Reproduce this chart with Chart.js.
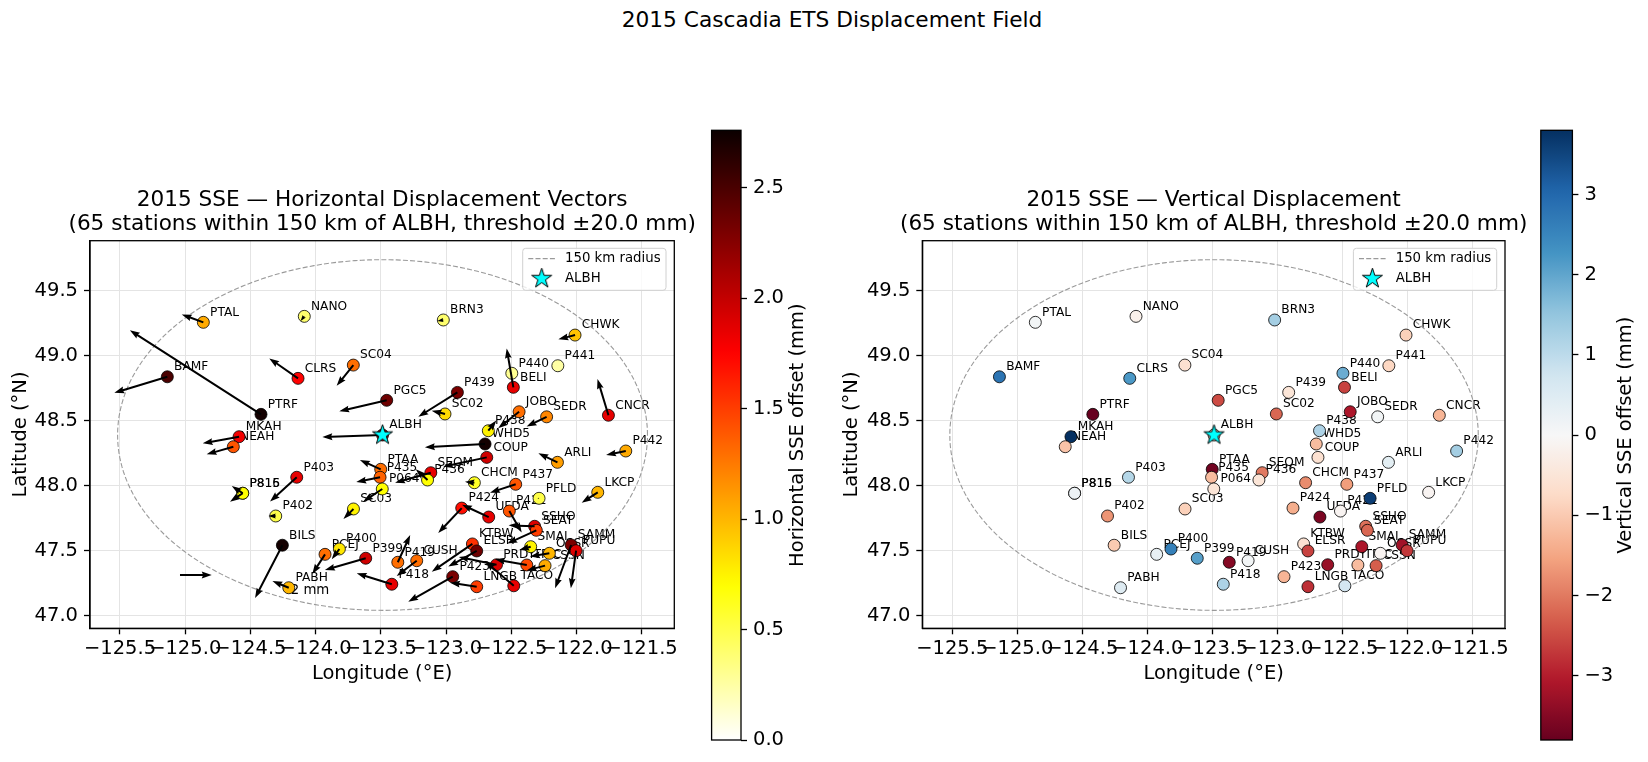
<!DOCTYPE html>
<html>
<head>
<meta charset="utf-8">
<script src="https://cdn.jsdelivr.net/npm/chart.js@4.4.0/dist/chart.umd.min.js"></script>
<style>
  body { margin: 0; background: #fff; width: 1648px; height: 762px; position: relative; overflow: hidden; font-family: 'DejaVu Sans', sans-serif; }
  canvas { position: absolute; top: 0; }
  #suptitle { position: absolute; left: 0; top: 7px; width: 1664px; text-align: center; font-size: 21.7px; line-height: 26px; color: #000; }
</style>
</head>
<body>
<div id="suptitle">2015 Cascadia ETS Displacement Field</div>
<canvas id="panel-h" width="712" height="762" style="left:0;width:712px;height:762px"></canvas>
<canvas id="cbar-h" width="150" height="762" style="left:700px;width:150px;height:762px"></canvas>
<canvas id="panel-v" width="710" height="762" style="left:830px;width:710px;height:762px"></canvas>
<canvas id="cbar-v" width="118" height="762" style="left:1530px;width:118px;height:762px"></canvas>
<script>
// ---- data ----
const stations = ['PTAL','NANO','BAMF','CLRS','SC04','PTRF','PGC5','BRN3','CHWK','P440','BELI','P441','CNCR','P439','SC02','JOBO','SEDR','ALBH','MKAH','NEAH','P438','WHD5','COUP','P442','ARLI','PTAA','P435','P064','SC03','SEQM','P436','CHCM','P437','PFLD','P421','UFDA','P424','SSHO','SEAT','KTBW','ELSR','SMAI','SAMM','PUPU','OSSR','CSSN','TRIC','PRDY','TACO','LNGB','P423','P419','CUSH','P418','P399','P400','PCEJ','P402','P403','P815','P816','BILS','PABH','LKCP'];
const lon = [-124.861,-124.087,-125.137,-124.135,-123.711,-124.419,-123.455,-123.021,-122.011,-122.496,-122.484,-122.143,-121.755,-122.913,-123.008,-122.440,-122.229,-123.487,-124.587,-124.631,-122.676,-122.701,-122.688,-121.622,-122.146,-123.501,-123.506,-123.489,-123.710,-123.117,-123.142,-122.783,-122.466,-122.287,-122.515,-122.673,-122.880,-122.321,-122.308,-122.798,-122.765,-122.351,-122.041,-122.003,-122.208,-122.241,-122.381,-122.613,-122.481,-122.765,-122.949,-123.370,-123.225,-123.416,-123.616,-123.818,-123.928,-124.306,-124.145,-124.559,-124.559,-124.255,-124.206,-121.837];
const lat = [49.257,49.303,48.838,48.826,48.928,48.549,48.657,49.275,49.159,48.865,48.757,48.923,48.542,48.718,48.552,48.569,48.530,48.390,48.377,48.300,48.423,48.321,48.218,48.267,48.180,48.126,48.065,47.975,47.821,48.100,48.044,48.023,48.011,47.903,47.805,47.759,47.828,47.688,47.657,47.552,47.498,47.531,47.544,47.500,47.480,47.385,47.390,47.392,47.230,47.223,47.300,47.411,47.423,47.242,47.442,47.513,47.472,47.767,48.065,47.942,47.942,47.542,47.215,47.949];
// horizontal offset magnitude (mm), colour of left panel
const hOffset = [1.05,0.40,2.50,1.75,1.30,2.72,2.35,0.40,0.95,0.30,1.85,0.25,1.85,2.30,0.85,1.30,1.20,2.20,1.80,1.40,0.75,2.72,1.95,1.05,1.10,1.30,1.35,0.70,0.75,1.85,0.70,0.60,1.40,0.50,1.40,1.85,1.70,1.90,1.50,1.55,2.35,0.75,2.30,1.90,1.00,1.05,1.45,1.90,1.85,1.50,2.30,1.30,1.30,1.85,1.95,0.80,1.30,0.50,1.85,0.70,0.70,2.72,1.00,1.00];
// arrow components (mm)
const vEast = [-1.36,-0.23,-3.34,-1.81,-1.05,-8.26,-2.99,-0.38,-1.05,-0.05,-0.42,0.0,-0.69,-2.46,-0.84,-1.32,-1.26,-3.79,-2.29,-1.68,0.50,-3.79,-2.74,-1.24,-1.20,-1.31,-1.50,-1.20,-0.63,-2.25,-0.74,-0.59,-1.62,-0.10,0.78,-1.68,-1.48,-1.64,-1.83,-2.56,-1.79,-0.72,-1.01,-0.33,-1.22,-1.15,-2.00,-2.38,-1.79,-1.68,-2.80,0.78,-1.26,-2.21,-2.57,-0.48,-0.80,-0.46,-1.68,-0.69,-0.80,-1.72,-1.03,-1.01];
const vNorth = [0.50,-0.30,-1.01,1.26,-1.31,5.32,-0.69,-0.06,-0.27,0.05,2.46,0.0,2.29,-1.54,0.21,-1.05,-0.61,-0.13,-0.42,-0.48,0.65,-0.21,-0.59,-0.25,0.57,0.59,-0.30,-0.80,-0.63,-0.63,0.68,0.06,-0.53,0.0,-1.36,0.78,-1.58,0.06,-0.84,-1.75,-0.99,-0.21,-2.73,-2.37,-0.21,-0.30,0.36,0.49,1.53,0.25,-1.58,1.72,-0.97,0.69,-0.74,-0.65,-1.24,0.0,-1.54,0.46,-0.53,-3.34,0.42,-0.66];
// vertical offset (mm), colour of right panel
const vUp = [0.1,-0.2,2.8,2.2,-0.6,-3.8,-2.5,1.3,-0.9,1.9,-2.6,-0.8,-1.3,-0.5,-2.2,-3.1,0.1,-1.0,3.8,-1.1,1.2,-1.2,-0.6,1.3,0.4,-3.7,-1.2,-0.5,-0.9,-2.0,-0.5,-1.8,-1.6,3.6,-0.1,-3.6,-1.4,-2.1,-2.2,-0.6,-2.6,-3.1,-3.2,-2.7,-0.1,-2.3,-1.2,-3.3,0.7,-2.8,-1.3,-3.5,0.1,1.2,2.1,2.6,0.3,-1.7,1.1,0.2,0.2,-1.0,0.5,-0.1];

const xTicks = [-125.5, -125.0, -124.5, -124.0, -123.5, -123.0, -122.5, -122.0, -121.5];
const yTicks = [47.0, 47.5, 48.0, 48.5, 49.0, 49.5];
const hTicks = [0.0, 0.5, 1.0, 1.5, 2.0, 2.5];
const uTicks = [-3, -2, -1, 0, 1, 2, 3];
const xRange = [-125.73, -121.25];
const yRange = [46.903, 49.885];
const hMax = 2.76;
const uLim = 3.8;
const center = { name: 'ALBH', lon: -123.487, lat: 48.390 };
const radiusKm = 150;
const keyMm = 2;
const keyAt = { lon: -125.04, lat: 47.313 };
const keyLabelAt = { lon: -124.043, lat: 47.192 };
const degPerMm = 0.1217; // quiver scale

const FONT = "'DejaVu Sans', sans-serif";
const AX = 19.5; // tick and axis label size
const subtitle = '(65 stations within 150 km of ALBH, threshold \u00b120.0 mm)';

// ---- colour maps ----
function hotR(v) {
  const t = 1 - Math.min(Math.max(v / hMax, 0), 1);
  const r = t < 0.365079 ? 0.0416 + (1 - 0.0416) * t / 0.365079 : 1;
  const g = t < 0.365079 ? 0 : t < 0.746032 ? (t - 0.365079) / 0.380953 : 1;
  const b = t < 0.746032 ? 0 : (t - 0.746032) / 0.253968;
  return `rgb(${Math.round(r * 255)},${Math.round(g * 255)},${Math.round(b * 255)})`;
}
const RDBU = [[103,0,31],[178,24,43],[214,96,77],[244,165,130],[253,219,199],[247,247,247],[209,229,240],[146,197,222],[67,147,195],[33,102,172],[5,48,97]];
function rdbu(v) {
  const t = Math.min(Math.max((v + uLim) / (2 * uLim), 0), 1) * 10;
  const i = Math.min(Math.floor(t), 9), f = t - i;
  const c = RDBU[i].map((a, k) => Math.round(a + (RDBU[i + 1][k] - a) * f));
  return `rgb(${c[0]},${c[1]},${c[2]})`;
}

const minus = s => s.replace('-', '\u2212');

function makeStar(R) {
  const c = document.createElement('canvas');
  const s = Math.ceil(2 * R + 4);
  c.width = c.height = s;
  const g = c.getContext('2d');
  g.translate(s / 2, s / 2);
  g.beginPath();
  for (let i = 0; i < 10; i++) {
    const r = i % 2 ? R * 0.382 : R;
    const a = -Math.PI / 2 + i * Math.PI / 5;
    g.lineTo(r * Math.cos(a), r * Math.sin(a));
  }
  g.closePath();
  g.fillStyle = '#00ffff';
  g.fill();
  g.lineWidth = 1;
  g.strokeStyle = '#000';
  g.stroke();
  return c;
}
const starImg = makeStar(10.5);

function ringPoints() {
  const dLat = radiusKm / 111.195;
  const dLon = dLat / Math.cos(center.lat * Math.PI / 180);
  const out = [];
  for (let i = 0; i <= 240; i++) {
    const a = i / 240 * 2 * Math.PI;
    out.push({ x: center.lon + dLon * Math.cos(a), y: center.lat + dLat * Math.sin(a) });
  }
  return out;
}

function drawArrow(ctx, x0, y0, x1, y1) {
  const dx = x1 - x0, dy = y1 - y0, L = Math.hypot(dx, dy);
  if (L < 0.3) return;
  const f = Math.min(1, L / 10);
  const ux = dx / L, uy = dy / L, nx = -uy, ny = ux;
  const sw = 1.0 * Math.max(f, 0.5), hw = 3.4 * f, hl = 10 * f, ha = 9 * f;
  ctx.beginPath();
  ctx.moveTo(x0 + nx * sw, y0 + ny * sw);
  ctx.lineTo(x1 - ux * ha + nx * sw, y1 - uy * ha + ny * sw);
  ctx.lineTo(x1 - ux * hl + nx * hw, y1 - uy * hl + ny * hw);
  ctx.lineTo(x1, y1);
  ctx.lineTo(x1 - ux * hl - nx * hw, y1 - uy * hl - ny * hw);
  ctx.lineTo(x1 - ux * ha - nx * sw, y1 - uy * ha - ny * sw);
  ctx.lineTo(x0 - nx * sw, y0 - ny * sw);
  ctx.closePath();
  ctx.fillStyle = '#000';
  ctx.fill();
}

function makePanel(id, cfg) {
  const pts = lon.map((x, i) => ({ x, y: lat[i] }));
  const panelPlugin = {
    id: 'panelDecor',
    beforeDatasetsDraw(chart) {
      const { ctx, scales: { x, y } } = chart;
      ctx.save();
      ctx.font = `12.2px ${FONT}`;
      ctx.fillStyle = '#000';
      ctx.textAlign = 'left';
      ctx.textBaseline = 'alphabetic';
      stations.forEach((n, i) => {
        ctx.fillText(n, x.getPixelForValue(lon[i]) + 6.7, y.getPixelForValue(lat[i]) - 6.7);
      });
      if (cfg.arrows) {
        ctx.font = `13.3px ${FONT}`;
        ctx.textAlign = 'center';
        ctx.textBaseline = 'middle';
        ctx.fillText(`${keyMm} mm`, x.getPixelForValue(keyLabelAt.lon), y.getPixelForValue(keyLabelAt.lat));
      }
      ctx.restore();
    },
    afterDatasetDraw(chart, args) {
      if (!cfg.arrows || args.index !== 1) return;
      const { ctx, scales: { x, y } } = chart;
      ctx.save();
      stations.forEach((n, i) => {
        drawArrow(ctx, x.getPixelForValue(lon[i]), y.getPixelForValue(lat[i]),
          x.getPixelForValue(lon[i] + vEast[i] * degPerMm), y.getPixelForValue(lat[i] + vNorth[i] * degPerMm));
      });
      drawArrow(ctx, x.getPixelForValue(keyAt.lon), y.getPixelForValue(keyAt.lat),
        x.getPixelForValue(keyAt.lon + keyMm * degPerMm), y.getPixelForValue(keyAt.lat));
      ctx.restore();
    },
    afterDraw(chart) {
      const { ctx, chartArea: a } = chart;
      ctx.save();
      ctx.strokeStyle = '#000';
      ctx.lineWidth = 1.3;
      ctx.strokeRect(a.left, a.top, a.right - a.left, a.bottom - a.top);
      // titles
      ctx.fillStyle = '#000';
      ctx.font = `21.6px ${FONT}`;
      ctx.textAlign = 'center';
      ctx.textBaseline = 'middle';
      const cx = (a.left + a.right) / 2;
      ctx.fillText(cfg.title, cx, a.top - 40.5);
      ctx.fillText(subtitle, cx, a.top - 16.5);
      // legend
      const w = 143.3, h = 42, x0 = a.right - 8.3 - w, y0 = a.top + 7.6;
      ctx.beginPath();
      ctx.roundRect(x0, y0, w, h, 3);
      ctx.fillStyle = 'rgba(255,255,255,0.8)';
      ctx.fill();
      ctx.strokeStyle = '#d0d0d0';
      ctx.lineWidth = 1;
      ctx.stroke();
      const ring = chart.data.datasets[2];
      ctx.beginPath();
      ctx.setLineDash(ring.borderDash);
      ctx.strokeStyle = ring.borderColor;
      ctx.lineWidth = ring.borderWidth;
      ctx.moveTo(x0 + 5.6, y0 + 10.3);
      ctx.lineTo(x0 + 32.3, y0 + 10.3);
      ctx.stroke();
      ctx.setLineDash([]);
      ctx.drawImage(starImg, x0 + 19 - starImg.width / 2, y0 + 30.3 - starImg.height / 2);
      ctx.fillStyle = '#000';
      ctx.font = `13.3px ${FONT}`;
      ctx.textAlign = 'left';
      ctx.fillText(ring.label, x0 + 42.3, y0 + 10.3);
      ctx.fillText(chart.data.datasets[0].label, x0 + 42.3, y0 + 30.3);
      ctx.restore();
    }
  };
  return new Chart(document.getElementById(id), {
    type: 'scatter',
    data: {
      datasets: [
        { label: center.name, data: [{ x: center.lon, y: center.lat }], pointStyle: starImg, pointRadius: 10, pointHoverRadius: 10 },
        { label: 'stations', data: pts, pointRadius: 6, pointHoverRadius: 6,
          backgroundColor: cfg.values.map(cfg.color), borderColor: '#000', borderWidth: 0.8 },
        { label: '150 km radius', data: ringPoints(), showLine: true, pointRadius: 0, pointHoverRadius: 0,
          borderColor: '#9a9a9a', borderWidth: 1.1, borderDash: [5, 2.2], fill: false }
      ]
    },
    options: {
      responsive: false, animation: false, devicePixelRatio: 1, events: [],
      layout: { padding: { left: 0, top: 240.7, right: cfg.padRight, bottom: 0 } },
      plugins: { legend: { display: false }, tooltip: { enabled: false } },
      scales: {
        x: {
          type: 'linear', min: xRange[0], max: xRange[1],
          afterBuildTicks: s => { s.ticks = xTicks.map(v => ({ value: v })); },
          afterFit: s => { s.height = 133.7; },
          grid: { color: '#e4e4e4', lineWidth: 1, tickColor: '#000', tickLength: 6, tickWidth: 1.3 },
          border: { display: true, color: '#000', width: 1.3 },
          ticks: { color: '#000', font: { family: FONT, size: AX }, padding: 2.6, maxRotation: 0, autoSkip: false,
            callback: v => minus(v.toFixed(1)) },
          title: { display: true, text: 'Longitude (\u00b0E)', color: '#000', font: { family: FONT, size: AX }, padding: { top: 0, bottom: 76.3 } }
        },
        y: {
          type: 'linear', min: yRange[0], max: yRange[1],
          afterBuildTicks: s => { s.ticks = yTicks.map(v => ({ value: v })); },
          afterFit: s => { s.width = cfg.yWidth; },
          grid: { color: '#e4e4e4', lineWidth: 1, tickColor: '#000', tickLength: 6, tickWidth: 1.3 },
          border: { display: true, color: '#000', width: 1.3 },
          ticks: { color: '#000', font: { family: FONT, size: AX }, padding: 6, autoSkip: false,
            callback: v => v.toFixed(1) },
          title: { display: true, text: 'Latitude (\u00b0N)', color: '#000', font: { family: FONT, size: AX }, padding: { top: cfg.yTitlePad, bottom: 0 } }
        }
      }
    },
    plugins: [panelPlugin]
  });
}

function makeColorbar(id, cfg) {
  const barPlugin = {
    id: 'barFill',
    beforeDatasetsDraw(chart) {
      const { ctx, chartArea: a, scales: { y } } = chart;
      const grad = ctx.createLinearGradient(0, a.bottom, 0, a.top);
      const n = 64;
      for (let i = 0; i <= n; i++) {
        const v = cfg.min + (cfg.max - cfg.min) * i / n;
        grad.addColorStop((a.bottom - y.getPixelForValue(v)) / (a.bottom - a.top), cfg.color(v));
      }
      ctx.save();
      ctx.fillStyle = grad;
      ctx.fillRect(a.left, a.top, a.right - a.left, a.bottom - a.top);
      ctx.strokeStyle = '#000';
      ctx.lineWidth = 1.3;
      ctx.strokeRect(a.left, a.top, a.right - a.left, a.bottom - a.top);
      ctx.translate(cfg.labelX, (a.top + a.bottom) / 2);
      ctx.rotate(-Math.PI / 2);
      ctx.fillStyle = '#000';
      ctx.font = `${AX}px ${FONT}`;
      ctx.textAlign = 'center';
      ctx.textBaseline = 'middle';
      ctx.fillText(cfg.label, 0, 0);
      ctx.restore();
    }
  };
  return new Chart(document.getElementById(id), {
    type: 'scatter',
    data: { datasets: [{ data: [] }] },
    options: {
      responsive: false, animation: false, devicePixelRatio: 1, events: [],
      layout: { padding: { left: cfg.padLeft, top: 130.3, right: 0, bottom: 22 } },
      plugins: { legend: { display: false }, tooltip: { enabled: false } },
      scales: {
        x: { display: false, min: 0, max: 1 },
        y: {
          position: 'right', min: cfg.min, max: cfg.max,
          afterBuildTicks: s => { s.ticks = cfg.ticks.map(v => ({ value: v })); },
          afterFit: s => { s.width = cfg.axisWidth; },
          grid: { drawOnChartArea: false, tickColor: '#000', tickLength: 6, tickWidth: 1.3 },
          border: { display: false },
          ticks: { color: '#000', font: { family: FONT, size: AX }, padding: 6, autoSkip: false, callback: cfg.fmt }
        }
      }
    },
    plugins: [barPlugin]
  });
}

makePanel('panel-h', { title: '2015 SSE \u2014 Horizontal Displacement Vectors', values: hOffset, color: hotR, arrows: true, padRight: 37.7, yWidth: 90, yTitlePad: 9.3 });
makePanel('panel-v', { title: '2015 SSE \u2014 Vertical Displacement', values: vUp, color: rdbu, arrows: false, padRight: 35, yWidth: 92.3, yTitlePad: 9.8 });
makeColorbar('cbar-h', { min: 0, max: hMax, ticks: hTicks, color: hotR, padLeft: 11.6, axisWidth: 109, labelX: 98,
  label: 'Horizontal SSE offset (mm)', fmt: v => v.toFixed(1) });
makeColorbar('cbar-v', { min: -uLim, max: uLim, ticks: uTicks, color: rdbu, padLeft: 10.8, axisWidth: 75.6, labelX: 96,
  label: 'Vertical SSE offset (mm)', fmt: v => minus(String(v)) });
</script>
</body>
</html>
